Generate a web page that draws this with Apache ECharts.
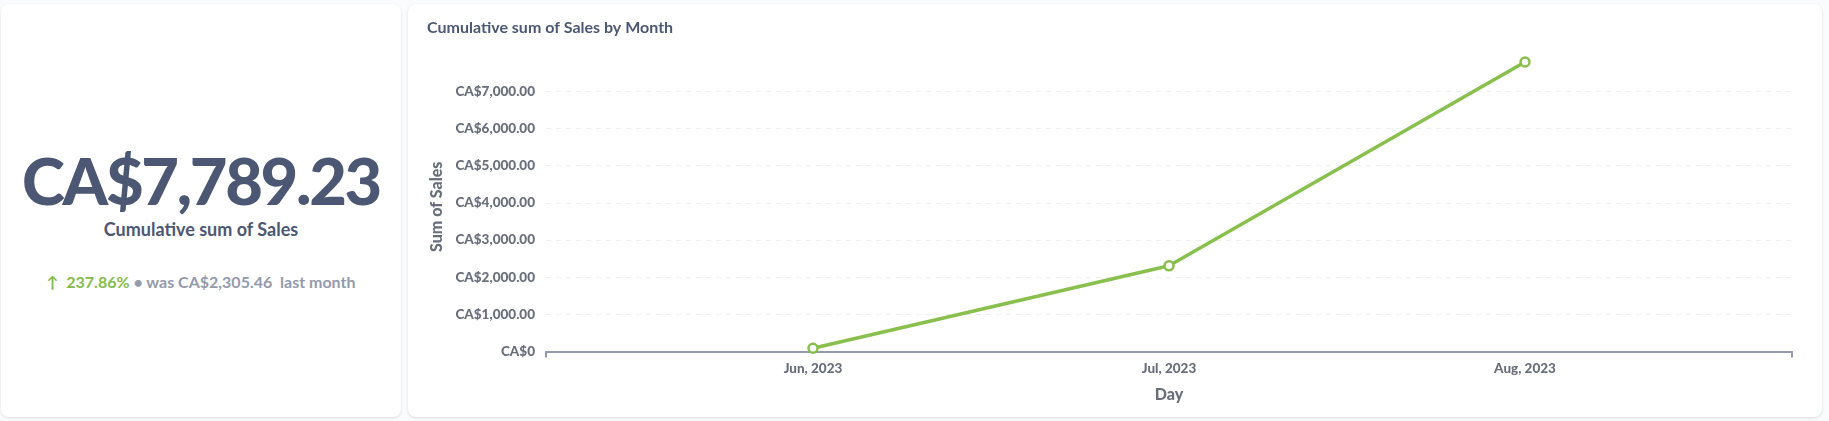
<!DOCTYPE html>
<html>
<head>
<meta charset="utf-8">
<script src="https://cdn.jsdelivr.net/npm/echarts@6/dist/echarts.min.js"></script>
<style>
  html, body { margin: 0; padding: 0; width: 1829px; height: 421px; background: #F9FBFC; font-family: Lato, "Noto Sans", sans-serif; overflow: hidden; }
  .card { position: absolute; top: 4px; height: 413px; background: #fff; border-radius: 8px; box-shadow: 0 1px 3px rgba(0,0,0,0.12); }
  #scalar { left: 1px; width: 400px; text-align: center; }
  #chart-card { left: 408px; width: 1414px; }
  #chart { width: 1414px; height: 413px; }
  .big { position: absolute; left: 0; right: 0; top: 136px; font-size: 65px; font-weight: 900; letter-spacing: -2.3px; color: #4C5773; line-height: 80px; }
  .label { position: absolute; left: 0; right: 0; top: 213px; font-size: 18px; font-weight: 700; color: #4C5773; line-height: 24px; }
  .compare { position: absolute; left: 0; right: 0; top: 267px; font-size: 16px; line-height: 22px; color: #949AAB; font-weight: 700; }
  .compare .up { color: #84BB4C; }
</style>
</head>
<body>
<div class="card" id="scalar">
  <div class="big" id="big"></div>
  <div class="label">Cumulative sum of Sales</div>
  <div class="compare" id="compare"></div>
</div>
<div class="card" id="chart-card"><div id="chart"></div></div>
<script>
const months = ['Jun, 2023', 'Jul, 2023', 'Aug, 2023'];
const cumulativeSales = [88, 2305.46, 7789.23];
const changePct = '237.86%';

const money = v => 'CA$' + v.toLocaleString('en-US', { minimumFractionDigits: 2, maximumFractionDigits: 2 });

document.getElementById('big').textContent = money(cumulativeSales[cumulativeSales.length - 1]);
document.getElementById('compare').innerHTML =
  '<span class="up">&#8593;&nbsp; ' + changePct + '</span> &bull; was ' +
  money(cumulativeSales[cumulativeSales.length - 2]) + '&nbsp; last month';

const myChart = echarts.init(document.getElementById('chart'));

const labelColor = '#696E7B';
const axisColor = '#949AAB';

const option = {
  animation: false,
  textStyle: { fontFamily: 'Lato' },
  title: {
    text: 'Cumulative sum of Sales by Month',
    left: 14,
    top: 11,
    textStyle: { fontSize: 16, fontWeight: 700, color: '#4C5773', fontFamily: 'Lato' }
  },
  grid: { left: 138, right: 30, top: 58, bottom: 65.5 },
  xAxis: {
    type: 'value',
    min: -0.75,
    max: months.length - 0.25,
    name: 'Day',
    nameLocation: 'middle',
    nameGap: 35,
    nameTextStyle: { fontSize: 16, fontWeight: 900, color: labelColor },
    axisLine: { show: true, lineStyle: { color: axisColor, width: 2 } },
    axisTick: { show: true, length: 6, lineStyle: { color: axisColor, width: 2 }, customValues: [-0.75, months.length - 0.25] },
    axisLabel: {
      customValues: months.map((m, i) => i),
      formatter: v => months[Math.round(v)] || '',
      fontSize: 13.5, fontWeight: 900, color: labelColor, margin: 10
    },
    splitLine: { show: false }
  },
  yAxis: {
    type: 'value',
    min: 0,
    max: 'dataMax',
    interval: 1000,
    name: 'Sum of Sales',
    nameLocation: 'middle',
    nameGap: 101,
    nameTextStyle: { fontSize: 16, fontWeight: 900, color: labelColor },
    axisLine: { show: false },
    axisTick: { show: false },
    axisLabel: {
      formatter: v => v === 0 ? 'CA$0' : money(v),
      fontSize: 13.5, fontWeight: 900, color: labelColor, margin: 11,
      showMaxLabel: false
    },
    splitLine: { show: true, showMaxLine: false, lineStyle: { color: '#EDEFF2', type: [5, 5], width: 1 } }
  },
  series: [{
    name: 'Cumulative sum of Sales',
    type: 'line',
    data: cumulativeSales.map((v, i) => [i, v]),
    symbol: 'circle',
    symbolSize: 9,
    itemStyle: { color: '#fff', borderColor: '#88BF4D', borderWidth: 2.5 },
    lineStyle: { color: '#88BF4D', width: 3.5 }
  }]
};

myChart.setOption(option);
</script>
</body>
</html>
